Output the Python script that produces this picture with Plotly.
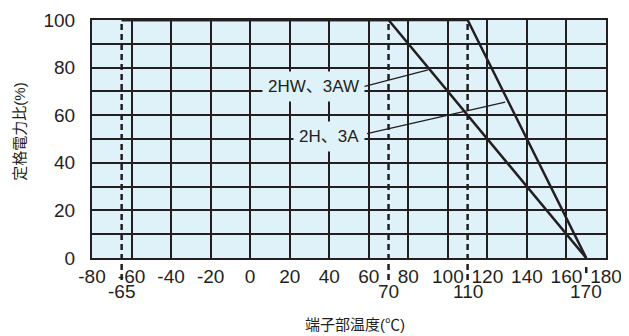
import plotly.graph_objects as go

# Data
curve_2hw_x = [-65, 70, 170]
curve_2hw_y = [100, 100, 0]
curve_2h_x = [-65, 110, 170]
curve_2h_y = [100, 100, 0]

limit_temps = [-65, 70, 110, 170]          # dashed markers & second-row labels
limit_in_plot = [True, True, True, False]  # whether the dashed line crosses the plot

x_ticks = [-80, -60, -40, -20, 0, 20, 40, 60, 80, 100, 120, 140, 160, 180]
y_ticks = [0, 20, 40, 60, 80, 100]

x_title = "端子部温度(℃)"
y_title = "定格電力比(%)"

label_texts = ["2HW、3AW", "2H、3A"]
label_pos_x = [32, 40]
label_pos_y = [72, 51]
leader_start_x = [57.4, 59.1]
leader_start_y = [72.0, 52.3]
leader_end_x = [90, 129]
leader_end_y = [79, 65.5]

INK = "#231f20"
BG = "#dff1f9"
FONT = "Liberation Sans, Arial, Noto Sans CJK JP"
TICK = 19

fig = go.Figure()
for xs, ys in [(curve_2hw_x, curve_2hw_y), (curve_2h_x, curve_2h_y)]:
    fig.add_trace(go.Scatter(x=xs, y=ys, mode="lines",
                             line=dict(color=INK, width=2.5),
                             hoverinfo="skip", showlegend=False, cliponaxis=False))

shapes = []
for t, inside in zip(limit_temps, limit_in_plot):
    shapes.append(dict(type="line", xref="x", yref="paper", x0=t, x1=t,
                       y0=-0.092 if inside else -0.038, y1=1 if inside else -0.072,
                       line=dict(color=INK, width=2.5, dash="6px,4px"), layer="above"))
for sx, sy, ex, ey in zip(leader_start_x, leader_start_y, leader_end_x, leader_end_y):
    shapes.append(dict(type="line", xref="x", yref="y", x0=sx, y0=sy, x1=ex, y1=ey,
                       line=dict(color=INK, width=1.3), layer="above"))

annotations = []
for txt, ax_, ay_ in zip(label_texts, label_pos_x, label_pos_y):
    annotations.append(dict(x=ax_, y=ay_, xref="x", yref="y", text=txt,
                            showarrow=False, bgcolor=BG, borderpad=5,
                            font=dict(size=17, color=INK, family=FONT)))
for t in limit_temps:
    annotations.append(dict(x=t, y=-0.14, xref="x", yref="paper", text=str(t),
                            showarrow=False, yanchor="middle",
                            font=dict(size=TICK, color=INK, family=FONT)))
annotations.append(dict(x=0.512, y=-0.2815, xref="paper", yref="paper", text=x_title,
                        showarrow=False, xanchor="center", yanchor="middle",
                        font=dict(size=15, color=INK, family=FONT)))
annotations.append(dict(x=-0.14, y=0.531, xref="paper", yref="paper", text=y_title,
                        showarrow=False, textangle=-90, xanchor="center", yanchor="middle",
                        font=dict(size=15, color=INK, family=FONT)))

# the page body adds an 8px margin around the figure, so the figure is sized to fit
fig.update_layout(
    width=621, height=328,
    margin=dict(l=84, r=23, t=12, b=78),
    paper_bgcolor="white", plot_bgcolor=BG,
    font=dict(family=FONT, color=INK),
    shapes=shapes, annotations=annotations,
    xaxis=dict(range=[-80, 180], tickvals=x_ticks, ticktext=[str(v) for v in x_ticks],
               showgrid=True, gridcolor=INK, gridwidth=1.8, zeroline=False,
               showline=True, linecolor=INK, linewidth=2, mirror=True, automargin=False,
               ticks="", tickfont=dict(size=TICK, color=INK, family=FONT),
               ticklabelstandoff=0),
    yaxis=dict(range=[0, 100], tickvals=y_ticks, ticktext=[str(v) for v in y_ticks],
               showgrid=True, gridcolor=INK, gridwidth=1.8, zeroline=False,
               minor=dict(dtick=10, showgrid=True, gridcolor=INK, gridwidth=1.8),
               showline=True, linecolor=INK, linewidth=2, mirror=True, automargin=False,
               ticks="", tickfont=dict(size=TICK, color=INK, family=FONT),
               ticklabelstandoff=11),
)

fig.write_html("out.html")
